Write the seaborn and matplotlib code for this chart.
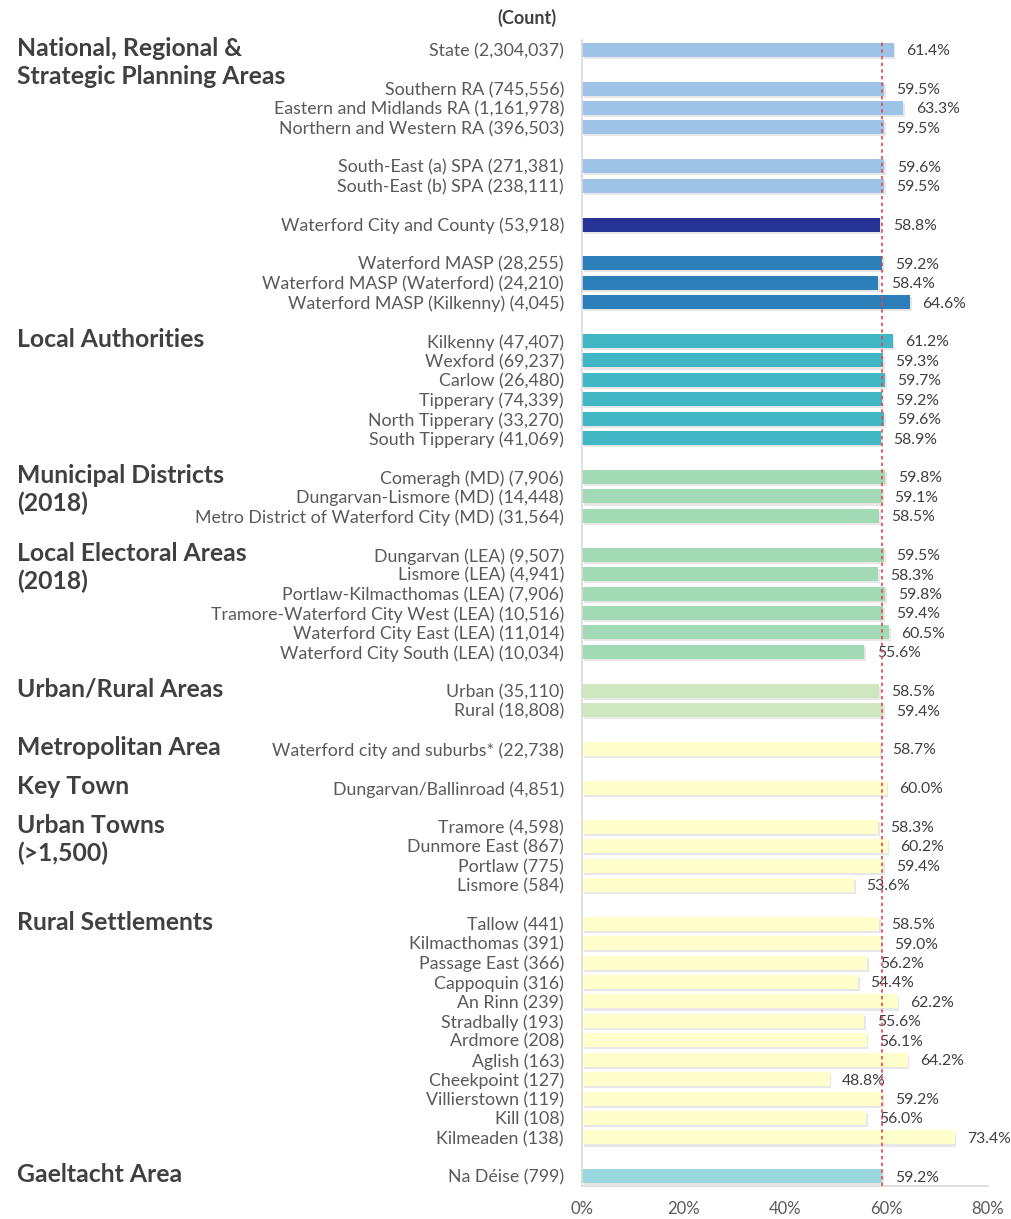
"""
Horizontal bar chart: share of population (%) by area, Waterford profile.
Bars are grouped into blocks separated by a blank row, with a bold group
heading in the left margin and a dotted reference line at the county value.
"""
import matplotlib
matplotlib.use("Agg")
import matplotlib.pyplot as plt
import matplotlib.patheffects as pe
import matplotlib.transforms as mtransforms
from matplotlib.ticker import FuncFormatter
import pandas as pd
import seaborn as sns

OUT_PATH = "out.png"

# --- data ---
labels = [
    "State (2,304,037)",
    "Southern RA (745,556)", "Eastern and Midlands RA (1,161,978)", "Northern and Western RA (396,503)",
    "South-East (a) SPA (271,381)", "South-East (b) SPA (238,111)",
    "Waterford City and County (53,918)",
    "Waterford MASP (28,255)", "Waterford MASP (Waterford) (24,210)", "Waterford MASP (Kilkenny) (4,045)",
    "Kilkenny (47,407)", "Wexford (69,237)", "Carlow (26,480)", "Tipperary (74,339)",
    "North Tipperary (33,270)", "South Tipperary (41,069)",
    "Comeragh (MD) (7,906)", "Dungarvan-Lismore (MD) (14,448)", "Metro District of Waterford City (MD) (31,564)",
    "Dungarvan (LEA) (9,507)", "Lismore (LEA) (4,941)", "Portlaw-Kilmacthomas (LEA) (7,906)",
    "Tramore-Waterford City West (LEA) (10,516)", "Waterford City East (LEA) (11,014)",
    "Waterford City South (LEA) (10,034)",
    "Urban (35,110)", "Rural (18,808)",
    "Waterford city and suburbs* (22,738)",
    "Dungarvan/Ballinroad (4,851)",
    "Tramore (4,598)", "Dunmore East (867)", "Portlaw (775)", "Lismore (584)",
    "Tallow (441)", "Kilmacthomas (391)", "Passage East (366)", "Cappoquin (316)", "An Rinn (239)",
    "Stradbally (193)", "Ardmore (208)", "Aglish (163)", "Cheekpoint (127)", "Villierstown (119)",
    "Kill (108)", "Kilmeaden (138)",
    "Na Déise (799)",
]
values = [
    61.4,
    59.5, 63.3, 59.5,
    59.6, 59.5,
    58.8,
    59.2, 58.4, 64.6,
    61.2, 59.3, 59.7, 59.2, 59.6, 58.9,
    59.8, 59.1, 58.5,
    59.5, 58.3, 59.8, 59.4, 60.5, 55.6,
    58.5, 59.4,
    58.7,
    60.0,
    58.3, 60.2, 59.4, 53.6,
    58.5, 59.0, 56.2, 54.4, 62.2, 55.6, 56.1, 64.2, 48.8, 59.2, 56.0, 73.4,
    59.2,
]
# number of bars in each block (blocks are separated by one empty row)
block_sizes = [1, 3, 2, 1, 3, 6, 3, 6, 2, 1, 1, 4, 12, 1]
block_tiers = ["national", "national", "national", "county", "masp", "la",
               "district", "district", "urbanrural",
               "settlement", "settlement", "settlement", "settlement", "gaeltacht"]
# group headings: (block index, lines)
headings = [
    (0, ["National, Regional &", "Strategic Planning Areas"]),
    (5, ["Local Authorities"]),
    (6, ["Municipal Districts", "(2018)"]),
    (7, ["Local Electoral Areas", "(2018)"]),
    (8, ["Urban/Rural Areas"]),
    (9, ["Metropolitan Area"]),
    (10, ["Key Town"]),
    (11, ["Urban Towns", "(>1,500)"]),
    (12, ["Rural Settlements"]),
    (13, ["Gaeltacht Area"]),
]
REFERENCE_VALUE = 59.2

TIER_COLOURS = {
    "national": "#9DC3E6",
    "county": "#253494",
    "masp": "#2C7FB8",
    "la": "#41B6C4",
    "district": "#A1DAB4",
    "urbanrural": "#CFE8C0",
    "settlement": "#FFFFCC",
    "gaeltacht": "#9BD7DF",
}
TEXT_DARK = "#404040"
TEXT_MID = "#595959"


def main():
    # row position = running index + number of blank separator rows above it
    pos, tier, block_of_bar = [], [], []
    i = 0
    for b, (size, t) in enumerate(zip(block_sizes, block_tiers)):
        for _ in range(size):
            pos.append(float(i + b))
            tier.append(t)
            block_of_bar.append(b)
            i += 1
    df = pd.DataFrame({"label": labels, "value": values, "pos": pos, "tier": tier})
    block_first_pos = {b: df["pos"][block_of_bar.index(b)] for b in range(len(block_sizes))}

    sns.set_theme(style="white")
    plt.rcParams["font.family"] = ["Lato", "DejaVu Sans"]

    fig = plt.figure(figsize=(10.11, 12.19), dpi=100)
    ax = fig.add_axes([582 / 1011, 1 - 1186 / 1219, (988 - 582) / 1011, (1186 - 40) / 1219])

    sns.barplot(data=df, x="value", y="pos", hue="tier", palette=TIER_COLOURS,
                orient="h", native_scale=True, dodge=False, width=0.72,
                errorbar=None, legend=False, saturation=1, ax=ax)

    shadow = [pe.SimplePatchShadow(offset=(1.2, -1.5), shadow_rgbFace="#7f7f7f", alpha=0.18),
              pe.Normal()]
    for patch in ax.patches:
        patch.set_path_effects(shadow)
        patch.set_linewidth(0)

    ax.axvline(REFERENCE_VALUE, color="#E0474C", lw=1.2, ls=(0, (2, 2)), zorder=5)

    for _, row in df.iterrows():
        ax.annotate(f"{row['value']:.1f}%", xy=(row["value"], row["pos"]),
                    xytext=(9, -1), textcoords="offset points",
                    ha="left", va="center", fontsize=11.3, color=TEXT_DARK)

    ax.set_xlim(0, 80)
    ax.set_ylim(58.5, -0.5)
    ax.set_xticks([0, 20, 40, 60, 80])
    ax.xaxis.set_major_formatter(FuncFormatter(lambda v, _: f"{v:.0f}%"))
    ax.set_yticks(df["pos"])
    ax.set_yticklabels(df["label"])
    ax.tick_params(axis="y", length=0, pad=13, labelsize=12.8, labelcolor=TEXT_MID)
    ax.tick_params(axis="x", length=0, pad=11, labelsize=12, labelcolor=TEXT_MID)
    ax.set_xlabel("")
    ax.set_ylabel("")
    for side in ["top", "right"]:
        ax.spines[side].set_visible(False)
    for side in ["left", "bottom"]:
        ax.spines[side].set_color("#D9D9D9")
        ax.spines[side].set_linewidth(1.2)

    # group headings in the left margin
    trans = mtransforms.blended_transform_factory(fig.transFigure, ax.transData)
    for b, lines in headings:
        y0 = block_first_pos[b] - 0.08
        for k, line in enumerate(lines):
            ax.text(17 / 1011, y0 + k * 1.45, line, transform=trans,
                    ha="left", va="center", fontsize=17.8, fontweight="bold",
                    color=TEXT_DARK, clip_on=False)

    fig.text(527 / 1011, 1 - 18 / 1219, "(Count)", ha="center", va="center",
             fontsize=13, fontweight="bold", color=TEXT_DARK)

    fig.savefig(OUT_PATH, dpi=100)


if __name__ == "__main__":
    main()
